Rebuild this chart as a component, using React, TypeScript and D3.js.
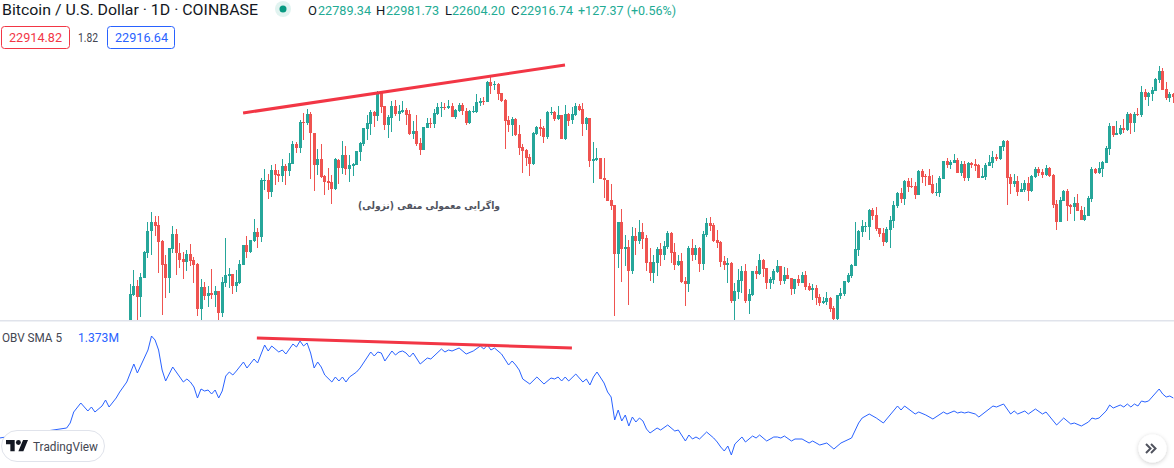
import { useEffect, useRef } from 'react';
import * as d3 from 'd3';

// Daily candles, first one sits at the left edge of the visible bars
const opens = [
  20730,21050,21140,21030,21220,21470,21690,21780,21750,21590,
  21360,21220,21510,21660,21470,21410,21380,21460,21400,21360,
  20910,21130,21040,21070,21050,21090,20870,21170,21240,21260,
  21140,21170,21350,21550,21480,21590,21680,21630,22190,22200,
  22080,22300,22260,22240,22340,22290,22360,22560,22520,22780,
  22770,22860,22670,22350,22410,22240,22190,22180,22110,22400,
  22320,22450,22310,22340,22350,22480,22560,22710,22760,22880,
  22840,23080,22940,22750,22820,22940,22860,22880,22900,22860,
  22660,22690,22570,22500,22720,22770,22760,22860,22920,22930,
  22920,22940,22830,22890,22950,22890,22770,22880,22880,22970,
  22990,22980,23180,23150,23160,23070,23000,22800,22750,22810,
  22660,22530,22500,22430,22360,22660,22730,22720,22630,22870,
  22880,22810,22850,22610,22860,22800,22850,22940,22910,22760,
  22820,22390,22400,22420,22220,22200,22000,21950,21460,21780,
  21510,21530,21290,21640,21590,21680,21620,21380,21270,21370,
  21510,21450,21530,21670,21480,21350,21390,21190,21160,21520,
  21450,21520,21360,21650,21770,21750,21600,21580,21390,21350,
  21370,20990,21080,21190,21290,20990,21050,21290,21260,21400,
  21320,21170,21200,21280,21340,21190,21250,21220,21110,21210,
  21170,21250,21140,21100,21120,21030,20970,20980,21020,20920,
  20810,21040,21060,21180,21240,21340,21500,21680,21730,21730,
  21900,21850,21720,21670,21580,21700,21790,21940,22070,22010,
  22190,22140,22140,22050,22290,22240,22240,22160,22070,22070,
  22210,22390,22350,22370,22400,22270,22360,22220,22370,22360,
  22350,22220,22230,22340,22370,22430,22410,22530,22590,22230,
  22160,22190,22080,22100,22170,22090,22230,22310,22280,22250,
  22320,22250,21960,21780,21990,22090,21950,21930,21970,21900,
  21800,21840,22010,22310,22270,22310,22370,22510,22740,22650,
  22660,22720,22700,22860,22770,22860,22850,23080,23030,23060,
  23090,23200,23290,23110,23020,23060,
];
const highs = [
  21160,21300,21200,21270,21490,21780,21880,21840,21840,21600,
  21450,21520,21740,21710,21570,21480,21500,21560,21430,21370,
  21210,21180,21140,21310,21140,21090,21230,21620,21320,21260,
  21300,21400,21550,21640,21600,21810,21720,22220,22310,22260,
  22350,22360,22300,22410,22360,22470,22590,22580,22800,22870,
  22910,22880,22670,22510,22560,22250,22320,22250,22420,22410,
  22590,22540,22450,22370,22490,22580,22720,22850,22900,22890,
  23090,23080,22940,22850,22990,23000,22950,22990,22920,22900,
  22790,22850,22620,22730,22820,22820,22910,22970,22980,22970,
  23000,22970,22910,22970,22970,22920,22900,22940,23060,23020,
  23030,23190,23240,23190,23170,23070,23010,22840,22830,22820,
  22750,22560,22510,22460,22680,22740,22810,22740,22890,22930,
  22890,22940,22850,22950,22870,22930,22970,22960,22970,22830,
  22820,22580,22520,22420,22420,22200,22160,21950,21780,21910,
  21650,21600,21730,21720,21800,21770,21650,21520,21450,21530,
  21570,21590,21690,21680,21570,21450,21470,21230,21540,21610,
  21550,21530,21690,21820,21830,21770,21700,21590,21440,21420,
  21380,21170,21310,21340,21360,21110,21290,21340,21460,21410,
  21320,21230,21310,21400,21340,21330,21320,21220,21210,21250,
  21280,21290,21170,21160,21150,21060,21030,21080,21030,20940,
  21050,21120,21190,21270,21360,21780,21700,21800,21780,21910,
  21920,21930,21720,21720,21730,21840,21990,22080,22120,22200,
  22220,22220,22180,22300,22310,22260,22310,22250,22170,22240,
  22390,22420,22400,22460,22420,22390,22390,22380,22380,22410,
  22360,22320,22370,22450,22490,22460,22540,22600,22600,22260,
  22260,22240,22170,22200,22230,22250,22330,22330,22310,22350,
  22330,22260,22000,22030,22100,22110,21960,22030,22060,21940,
  21930,22040,22330,22320,22380,22390,22540,22770,22740,22790,
  22750,22810,22880,22870,22880,22920,23140,23110,23080,23130,
  23220,23340,23320,23180,23080,23070,
];
const lows = [
  20700,21040,20800,20830,21220,21420,21450,21640,21270,20850,
  21020,21070,21470,21250,21320,21210,21290,21340,21170,20840,
  20800,21000,20930,21010,20930,20800,20830,21130,21120,21060,
  21080,21160,21350,21420,21470,21580,21520,21580,22100,22010,
  22030,22150,22180,22180,22150,22240,22360,22470,22470,22600,
  22750,22210,22090,22250,22220,22050,22100,21960,22100,22160,
  22260,22250,22180,22240,22350,22390,22540,22600,22650,22730,
  22790,22870,22700,22620,22680,22840,22790,22870,22750,22650,
  22610,22540,22450,22500,22720,22720,22720,22850,22830,22900,
  22910,22830,22810,22880,22850,22750,22760,22870,22870,22940,
  22950,22980,23060,23100,23000,22980,22510,22680,22640,22640,
  22450,22270,22340,22240,22350,22650,22640,22570,22610,22850,
  22790,22800,22610,22600,22740,22760,22840,22890,22640,22700,
  22330,22170,22390,22210,22020,21990,21900,20840,21320,21180,
  21340,20950,21260,21450,21560,21510,21290,21190,21170,21240,
  21340,21400,21510,21370,21300,21340,21170,20940,21080,21390,
  21400,21280,21300,21630,21690,21580,21520,21330,21300,21170,
  20970,20730,21010,21070,20970,20860,21040,21210,21250,21230,
  21110,21110,21160,21270,21150,21160,21210,21050,21060,21140,
  21170,21100,21090,21000,20950,20940,20960,20950,20880,20770,
  20780,21010,21040,21170,21220,21340,21440,21630,21680,21600,
  21800,21690,21630,21540,21570,21520,21720,21920,21970,21950,
  22080,22120,22010,22050,22170,22140,22150,22060,22040,22030,
  22210,22320,22310,22370,22270,22240,22190,22190,22320,22290,
  22220,22220,22200,22340,22320,22390,22400,22490,21950,22060,
  22130,22040,22080,22080,21990,22080,22220,22240,22220,22240,
  22230,21920,21700,21780,21990,21790,21860,21790,21890,21800,
  21790,21840,21980,22260,22260,22230,22370,22450,22630,22650,
  22650,22670,22690,22660,22680,22840,22830,23000,22940,22990,
  23090,23170,23100,23000,22980,22970,
];
const closes = [
  21060,21140,21030,21230,21480,21690,21780,21740,21580,21350,
  21220,21520,21660,21470,21400,21380,21460,21390,21350,20910,
  21130,21040,21070,21050,21090,20870,21180,21250,21260,21140,
  21180,21360,21550,21480,21600,21680,21630,22200,22200,22080,
  22300,22250,22240,22340,22290,22370,22560,22520,22780,22770,
  22860,22670,22350,22410,22230,22180,22170,22110,22410,22320,
  22450,22310,22350,22360,22490,22570,22720,22770,22880,22840,
  23080,22930,22750,22830,22940,22860,22890,22900,22850,22660,
  22690,22560,22500,22730,22770,22760,22870,22930,22930,22920,
  22940,22830,22900,22950,22890,22770,22890,22890,22980,22990,
  22980,23180,23140,23160,23060,22990,22790,22750,22810,22650,
  22520,22490,22420,22360,22670,22730,22710,22630,22880,22880,
  22810,22850,22610,22860,22790,22860,22940,22900,22760,22820,
  22390,22410,22420,22210,22200,21990,21940,21460,21780,21510,
  21530,21290,21640,21590,21680,21610,21370,21270,21380,21510,
  21450,21540,21670,21470,21350,21390,21180,21160,21520,21450,
  21520,21360,21660,21770,21740,21590,21570,21380,21350,21370,
  20990,21090,21200,21290,20990,21060,21290,21260,21400,21310,
  21170,21210,21290,21340,21190,21250,21210,21110,21210,21170,
  21250,21130,21100,21120,21020,20970,20990,21020,20910,20810,
  21050,21070,21190,21250,21350,21510,21690,21740,21740,21900,
  21840,21710,21660,21580,21710,21800,21950,22070,22010,22190,
  22130,22130,22050,22290,22230,22230,22150,22070,22080,22220,
  22390,22350,22380,22400,22270,22360,22220,22370,22350,22340,
  22220,22240,22350,22380,22430,22410,22540,22590,22220,22160,
  22190,22080,22110,22170,22090,22240,22310,22270,22250,22320,
  22240,21950,21780,22000,22090,21940,21930,21970,21890,21800,
  21850,22020,22310,22270,22320,22380,22520,22740,22650,22670,
  22720,22700,22860,22770,22860,22850,23080,23030,23070,23100,
  23210,23290,23100,23020,23060,23030,
];

// OBV SMA 5, in millions. obvDays are bar numbers, negative = before the first visible candle
const obvDays = [
  -37,-18,-17,-16,-14,-12,-11,-10,-8,-7,-6,-4,-3,-1,1,2,5,6,7,8,9,10,12,14,15,16,17,18,19,20,
  21,22,23,24,25,26,27,28,29,30,32,33,35,36,38,39,40,42,43,44,46,47,48,49,50,51,52,53,54,55,
  57,58,59,60,61,62,64,65,68,69,70,71,72,74,75,76,77,78,79,80,82,84,85,88,89,90,91,93,95,97,
  99,100,101,102,103,105,107,108,109,110,111,113,115,117,119,120,121,122,123,124,126,128,129,130,131,132,134,135,136,137,
  138,139,140,141,142,143,144,145,146,147,149,150,152,154,155,157,158,159,160,161,163,165,166,167,168,169,170,171,173,174,
  176,177,178,180,182,183,184,185,187,188,190,192,193,195,197,199,201,204,206,207,209,211,213,217,218,219,222,223,225,227,
  230,231,233,234,235,236,237,239,240,244,245,247,249,250,251,253,254,256,258,259,262,264,266,267,269,271,272,273,274,276,
  277,278,280,281,282,283,284,285,286,287,288,291,292,293,294,295,
];
const obvValues = [
  0.96,1.06,1.11,1.22,1.31,1.23,1.27,1.22,1.28,1.34,1.27,1.36,1.42,1.52,1.70,1.61,1.84,1.98,1.94,1.84,1.64,1.53,1.67,1.57,1.52,1.55,1.52,1.47,1.36,1.45,
  1.43,1.44,1.40,1.44,1.36,1.43,1.58,1.62,1.59,1.63,1.72,1.66,1.75,1.71,1.89,1.83,1.88,1.82,1.84,1.80,1.90,1.87,1.93,1.88,1.91,1.81,1.66,1.72,1.67,1.59,
  1.52,1.57,1.53,1.57,1.52,1.57,1.62,1.66,1.82,1.78,1.82,1.81,1.73,1.83,1.79,1.82,1.83,1.81,1.77,1.81,1.70,1.76,1.75,1.85,1.82,1.84,1.83,1.86,1.80,1.83,
  1.88,1.85,1.89,1.84,1.86,1.80,1.69,1.73,1.69,1.64,1.55,1.50,1.57,1.50,1.56,1.55,1.57,1.53,1.57,1.53,1.60,1.52,1.55,1.49,1.57,1.62,1.51,1.42,1.37,1.14,
  1.24,1.13,1.19,1.08,1.17,1.12,1.16,1.13,1.05,1.01,1.06,1.04,1.09,1.03,1.04,0.93,0.99,0.95,0.97,0.95,1.02,0.96,0.92,0.87,0.83,0.88,0.79,0.90,0.97,0.92,
  0.98,0.96,0.99,0.93,0.97,0.97,0.96,0.98,0.93,0.95,0.95,0.91,0.93,0.89,0.91,0.85,0.91,0.96,1.11,1.16,1.20,1.16,1.11,1.28,1.24,1.28,1.20,1.22,1.19,1.15,
  1.22,1.20,1.23,1.21,1.22,1.21,1.22,1.20,1.17,1.28,1.27,1.30,1.20,1.23,1.20,1.23,1.20,1.25,1.20,1.22,1.09,1.16,1.10,1.11,1.08,1.12,1.16,1.15,1.16,1.23,
  1.29,1.26,1.29,1.27,1.30,1.27,1.30,1.28,1.33,1.32,1.33,1.45,1.40,1.37,1.38,1.36,
];

// Hand drawn trend lines: [bar, value]
const priceTrend = [[31.9, 22870], [122.95, 23350]];
const obvTrend = [[35.8, 1.96], [124.9, 1.86]];

const UP = '#26a69a';
const DOWN = '#ef5350';
const TREND = '#f23645';
const BLUE = '#2962ff';
const INK = '#131722';
const MUTED = '#434651';
const LEGEND_GREEN = '#22ab94';
const FONT = 'Roboto, "Noto Sans", sans-serif';

const WIDTH = 1174;
const HEIGHT = 468;
const PANE_BOTTOM = 320;

export default function App() {
  const svgRef = useRef<SVGSVGElement>(null);

  useEffect(() => {
    if (!svgRef.current) return;
    const svg = d3.select(svgRef.current);
    svg.selectAll('*').remove();

    const x = d3.scaleLinear().domain([0, 295]).range([130.3, 1173.3]);
    const yPrice = d3.scaleLinear().domain([24000, 20000]).range([0, 400]);
    const yObv = d3.scaleLinear().domain([5.34, 0]).range([0, 534]);

    const defs = svg.append('defs');
    defs
      .append('clipPath')
      .attr('id', 'price-pane')
      .append('rect')
      .attr('width', WIDTH)
      .attr('height', PANE_BOTTOM);
    const shadow = defs.append('filter').attr('id', 'btn-shadow').attr('x', '-40%').attr('y', '-40%').attr('width', '180%').attr('height', '180%');
    shadow
      .append('feDropShadow')
      .attr('dx', 0)
      .attr('dy', 1)
      .attr('stdDeviation', 2)
      .attr('flood-color', '#000')
      .attr('flood-opacity', 0.2);

    // Candles
    const candles = opens.map((o, i) => ({
      i,
      o,
      h: highs[i],
      l: lows[i],
      c: closes[i],
      color: closes[i] >= o ? UP : DOWN,
    }));
    const pane = svg.append('g').attr('clip-path', 'url(#price-pane)');
    pane
      .selectAll('.wick')
      .data(candles)
      .join('rect')
      .attr('class', 'wick')
      .attr('shape-rendering', 'crispEdges')
      .attr('x', (d) => Math.round(x(d.i) - 0.5))
      .attr('width', 1)
      .attr('y', (d) => yPrice(d.h))
      .attr('height', (d) => yPrice(d.l) - yPrice(d.h))
      .attr('fill', (d) => d.color);
    pane
      .selectAll('.body')
      .data(candles)
      .join('rect')
      .attr('class', 'body')
      .attr('shape-rendering', 'crispEdges')
      .attr('x', (d) => Math.round(x(d.i) - 1.5))
      .attr('width', 3)
      .attr('y', (d) => yPrice(Math.max(d.o, d.c)))
      .attr('height', (d) => Math.max(1, Math.abs(yPrice(d.o) - yPrice(d.c))))
      .attr('fill', (d) => d.color);

    // Pane separator
    svg
      .append('rect')
      .attr('y', PANE_BOTTOM)
      .attr('width', WIDTH)
      .attr('height', 1.5)
      .attr('fill', '#e0e3eb');

    // OBV line
    const obvLine = d3
      .line<number>()
      .x((_, i) => x(obvDays[i]))
      .y((d) => yObv(d));
    svg
      .append('path')
      .attr('d', obvLine(obvValues))
      .attr('fill', 'none')
      .attr('stroke', BLUE)
      .attr('stroke-width', 1);

    // Trend lines
    const trendPrice = d3.line<number[]>().x((d) => x(d[0])).y((d) => yPrice(d[1]));
    const trendObv = d3.line<number[]>().x((d) => x(d[0])).y((d) => yObv(d[1]));
    [trendPrice(priceTrend), trendObv(obvTrend)].forEach((d) => {
      svg.append('path').attr('d', d).attr('stroke', TREND).attr('stroke-width', 3).attr('fill', 'none');
    });

    // Note on the chart
    svg
      .append('text')
      .attr('x', 429)
      .attr('y', 209)
      .attr('text-anchor', 'middle')
      .attr('direction', 'rtl')
      .attr('font-family', '"DejaVu Sans", sans-serif')
      .attr('font-weight', 700)
      .attr('font-size', 10)
      .attr('textLength', 142)
      .attr('lengthAdjust', 'spacingAndGlyphs')
      .attr('fill', '#50535e')
      .text('واگرایی معمولی منفی (نزولی)');

    const label = (
      text: string,
      tx: number,
      ty: number,
      fill: string,
      size: number,
      length?: number,
    ) => {
      const t = svg
        .append('text')
        .attr('x', tx)
        .attr('y', ty)
        .attr('fill', fill)
        .attr('font-family', FONT)
        .attr('font-size', size)
        .text(text);
      if (length) t.attr('textLength', length).attr('lengthAdjust', 'spacingAndGlyphs');
      return t;
    };

    // Title row
    label('Bitcoin / U.S. Dollar · 1D · COINBASE', 2, 15, INK, 15, 256);
    svg.append('circle').attr('cx', 283).attr('cy', 9).attr('r', 8).attr('fill', '#089981').attr('opacity', 0.12);
    svg.append('circle').attr('cx', 283).attr('cy', 9).attr('r', 3.5).attr('fill', '#089981');
    label('O', 308, 15, INK, 13);
    label('22789.34', 318, 15, LEGEND_GREEN, 13, 53);
    label('H', 376, 15, INK, 13);
    label('22981.73', 386, 15, LEGEND_GREEN, 13, 53);
    label('L', 445, 15, INK, 13);
    label('22604.20', 452, 15, LEGEND_GREEN, 13, 53);
    label('C', 511, 15, INK, 13);
    label('22916.74', 520, 15, LEGEND_GREEN, 13, 53);
    label('+127.37 (+0.56%)', 578, 15, LEGEND_GREEN, 13, 98);

    // Bid / ask boxes
    svg.append('rect').attr('x', 1.5).attr('y', 26.5).attr('width', 68).attr('height', 22).attr('rx', 3).attr('fill', '#fff').attr('stroke', TREND);
    label('22914.82', 9, 42, TREND, 13, 53);
    label('1.82', 78, 42, MUTED, 12, 20);
    svg.append('rect').attr('x', 107.5).attr('y', 26.5).attr('width', 67).attr('height', 22).attr('rx', 3).attr('fill', '#fff').attr('stroke', BLUE);
    label('22916.64', 115, 42, BLUE, 13, 53);

    // OBV legend
    label('OBV SMA 5', 2, 342, MUTED, 12, 60);
    label('1.373M', 78, 342, BLUE, 12, 41);

    // TradingView badge
    svg.append('rect').attr('x', 1.5).attr('y', 430.5).attr('width', 103).attr('height', 31).attr('rx', 15.5).attr('fill', '#fff').attr('stroke', '#e0e3eb');
    svg
      .append('path')
      .attr('transform', 'translate(6,437.5) scale(0.62)')
      .attr('d', 'M14 22H7V11H0V4h14v18zM28 22h-8l7.5-18h8L28 22z')
      .attr('fill', INK);
    svg.append('circle').attr('cx', 6 + 20 * 0.62).attr('cy', 437.5 + 8 * 0.62).attr('r', 4 * 0.62).attr('fill', INK);
    label('TradingView', 33, 451, MUTED, 12, 65);

    // Scroll button
    svg.append('circle').attr('cx', 1152.5).attr('cy', 448.5).attr('r', 14).attr('fill', '#fff').attr('filter', 'url(#btn-shadow)');
    svg
      .append('path')
      .attr('d', 'M1149 444l4.5 4.5-4.5 4.5M1154 444l4.5 4.5-4.5 4.5')
      .attr('transform', 'translate(-3,0)')
      .attr('fill', 'none')
      .attr('stroke', '#50535e')
      .attr('stroke-width', 2);
  }, []);

  return (
    <svg
      ref={svgRef}
      width={WIDTH}
      height={HEIGHT}
      style={{ position: 'absolute', left: 0, top: 0, display: 'block', background: '#fff' }}
    />
  );
}
